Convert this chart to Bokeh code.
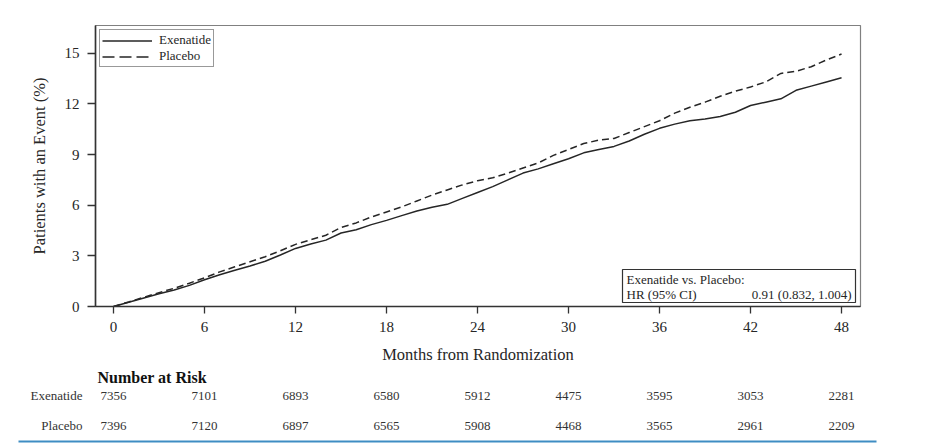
from bokeh.plotting import figure
from bokeh.models import Range1d, Legend, LegendItem, FixedTicker
from bokeh.core.properties import value
from bokeh.embed import file_html
from bokeh.resources import INLINE

# ---------------- data ----------------
months = list(range(0, 49))
exenatide = [0, 0.25, 0.5, 0.75, 0.98, 1.25, 1.58, 1.88, 2.15, 2.4,
             2.68, 3.05, 3.44, 3.7, 3.93, 4.35, 4.55, 4.85, 5.1, 5.38,
             5.65, 5.88, 6.05, 6.4, 6.75, 7.1, 7.5, 7.9, 8.15, 8.45,
             8.75, 9.1, 9.3, 9.48, 9.8, 10.2, 10.55, 10.8, 11.0, 11.1,
             11.25, 11.5, 11.9, 12.1, 12.3, 12.8, 13.05, 13.3, 13.55]
placebo = [0, 0.27, 0.55, 0.82, 1.08, 1.38, 1.7, 2.05, 2.35, 2.65,
           2.95, 3.3, 3.68, 3.95, 4.22, 4.68, 4.95, 5.3, 5.6, 5.9,
           6.25, 6.6, 6.9, 7.2, 7.45, 7.62, 7.9, 8.2, 8.5, 8.95,
           9.3, 9.65, 9.85, 9.95, 10.3, 10.65, 11.0, 11.45, 11.8, 12.1,
           12.45, 12.75, 13.0, 13.3, 13.8, 13.93, 14.2, 14.6, 14.95]
x_ticks = [0, 6, 12, 18, 24, 30, 36, 42, 48]
y_ticks = [0, 3, 6, 9, 12, 15]
risk_months = [0, 6, 12, 18, 24, 30, 36, 42, 48]
exenatide_risk = [7356, 7101, 6893, 6580, 5912, 4475, 3595, 3053, 2281]
placebo_risk = [7396, 7120, 6897, 6565, 5908, 4468, 3565, 2961, 2209]
series_names = ["Exenatide", "Placebo"]
hr_title = "Exenatide vs. Placebo:"
hr_label = "HR (95% CI)"
hr_value = "0.91 (0.832, 1.004)"

# ---------------- layout ----------------
FONT = "Liberation Serif"
INK = "#262626"
W = 926
H1, H2 = 368, 76
F_LEFT, F_RIGHT, F_TOP, F_BOTTOM = 95, 860, 25, 306   # frame edges on the canvas (px)
X0, X1 = -1.19, 49.25
Y0, Y1 = 0.0, 16.64
ppm = (F_RIGHT - F_LEFT) / (X1 - X0)
ppv = (F_BOTTOM - F_TOP) / (Y1 - Y0)


def px2m(px):
    return X0 + (px - F_LEFT) / ppm


def py2v(py):
    return (F_BOTTOM - py) / ppv


p = figure(width=W, height=H1, x_range=Range1d(X0, X1), y_range=Range1d(Y0, Y1),
           output_backend="svg", toolbar_location=None,
           min_border_left=F_LEFT, min_border_right=W - F_RIGHT,
           min_border_top=F_TOP, min_border_bottom=H1 - F_BOTTOM)
p.grid.visible = False
p.background_fill_color = "white"
p.border_fill_color = "white"
p.outline_line_color = "#808080"
p.outline_line_width = 1.2

for ax in (p.xaxis[0], p.yaxis[0]):
    ax.axis_line_color = "#333333"
    ax.axis_line_width = 1.6
    ax.major_tick_line_color = "#333333"
    ax.major_tick_line_width = 1.3
    ax.major_tick_in = 0
    ax.major_tick_out = 7
    ax.minor_tick_line_color = None
    ax.major_label_text_font = FONT
    ax.major_label_text_font_size = "15px"
    ax.major_label_text_color = INK
    ax.axis_label_text_font = FONT
    ax.axis_label_text_font_size = "16.5px"
    ax.axis_label_text_font_style = "normal"
    ax.axis_label_text_color = INK

p.xaxis.ticker = FixedTicker(ticks=x_ticks)
p.yaxis.ticker = FixedTicker(ticks=y_ticks)
p.xaxis.major_label_standoff = 8
p.yaxis.major_label_standoff = 8
p.yaxis.major_tick_out = 8
p.xaxis.axis_label = "Months from Randomization"
p.yaxis.axis_label = "Patients with an Event (%)"
p.xaxis.axis_label_standoff = 10
p.yaxis.axis_label_standoff = 13

p.line(months, exenatide, line_color=INK, line_width=1.5)
p.line(months, placebo, line_color=INK, line_width=1.5, line_dash="7 4")

# legend samples (placeholder renderers, longer dash like the reference key)
nan = float("nan")
r_ex = p.line([nan], [nan], line_color=INK, line_width=1.3)
r_pl = p.line([nan], [nan], line_color=INK, line_width=1.3, line_dash="12 5")
legend = Legend(items=[LegendItem(label=series_names[0], renderers=[r_ex]),
                       LegendItem(label=series_names[1], renderers=[r_pl])],
                location="top_left", margin=4, padding=2, spacing=0,
                glyph_width=50, glyph_height=13, label_height=13, label_standoff=7,
                label_text_font=FONT, label_text_font_size="13px", label_text_color=INK,
                border_line_color="#333333", border_line_width=1.2,
                background_fill_color="white", background_fill_alpha=1.0)
p.add_layout(legend)

# HR box
bx0, bx1 = px2m(622), px2m(855)
by0, by1 = py2v(302), py2v(269)
p.quad(left=[bx0], right=[bx1], bottom=[by0], top=[by1], fill_color="white",
       line_color="#333333", line_width=1.2)
p.text(x=[px2m(626)], y=[py2v(279)], text=[hr_title], text_font=value(FONT),
       text_font_size="13px", text_color=INK, text_baseline="middle", text_align="left")
p.text(x=[px2m(626)], y=[py2v(294)], text=[hr_label], text_font=value(FONT),
       text_font_size="13px", text_color=INK, text_baseline="middle", text_align="left")
p.text(x=[px2m(851)], y=[py2v(294)], text=[hr_value], text_font=value(FONT),
       text_font_size="13px", text_color=INK, text_baseline="middle", text_align="right")

# ---------------- number at risk table: its own figure, same month scale ----------------
t = figure(width=W, height=H2, x_range=Range1d(px2m(0), px2m(W)), y_range=Range1d(H2, 0),
           output_backend="svg", toolbar_location=None, x_axis_type=None, y_axis_type=None,
           min_border_left=0, min_border_right=0, min_border_top=0, min_border_bottom=0)
t.grid.visible = False
t.outline_line_color = None
t.background_fill_color = "white"
t.border_fill_color = "white"

t.text(x=[px2m(97)], y=[377 - H1], text=["Number at Risk"], text_font=value(FONT),
       text_font_size="16px", text_font_style="bold", text_color="#111111",
       text_baseline="middle", text_align="left")
row_py = [395, 425]
for name, vals, yy in zip(series_names, [exenatide_risk, placebo_risk], row_py):
    t.text(x=[px2m(82)], y=[yy - H1], text=[name], text_font=value(FONT), text_font_size="13px",
           text_color="#333333", text_baseline="middle", text_align="right")
    t.text(x=risk_months, y=[yy - H1] * len(risk_months), text=[str(v) for v in vals],
           text_font=value(FONT), text_font_size="13px", text_color="#333333",
           text_baseline="middle", text_align="center")

t.segment(x0=[px2m(18)], x1=[px2m(876)], y0=[441 - H1], y1=[441 - H1],
          line_color="#3f8dc3", line_width=2)

open("out.html", "w").write(file_html([p, t], INLINE))
